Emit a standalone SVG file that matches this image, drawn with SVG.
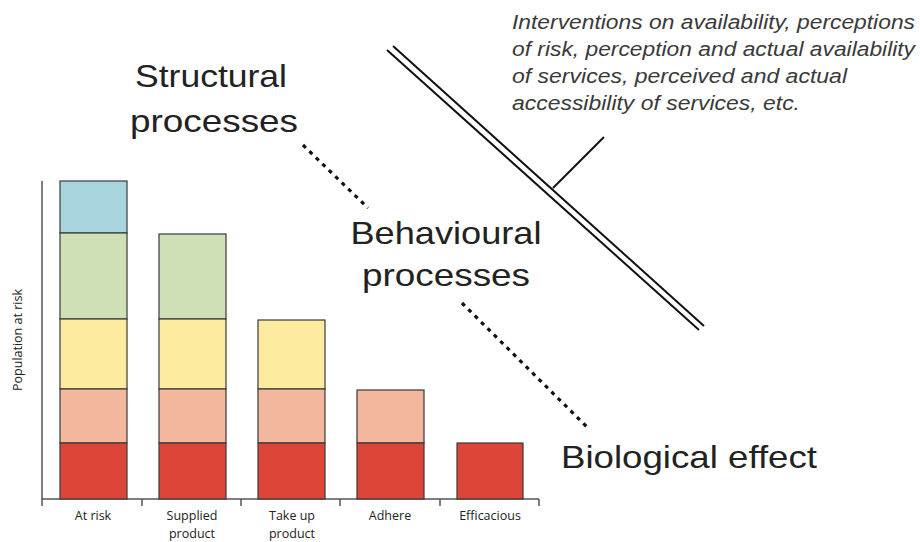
<svg xmlns="http://www.w3.org/2000/svg" width="920" height="542" viewBox="0 0 920 542">
<style>
.bar{stroke:#3a3a3a;stroke-width:1.2}
.b{fill:#a8d5dd}.g{fill:#cfe0b6}.y{fill:#fdeca0}.s{fill:#f3b79e}.r{fill:#dd4539}
.axis{stroke:#555;stroke-width:1.5;fill:none}
.lbl{font-family:"Open Sans","Liberation Sans",sans-serif;font-size:12.5px;fill:#222;text-anchor:middle}
.big{font-family:"Liberation Sans",Arial,sans-serif;font-size:32px;fill:#222;text-anchor:middle}
.it{font-family:"Liberation Sans",Arial,sans-serif;font-style:italic;font-size:19.5px;fill:#3a3a3a}
.dot{stroke:#111;stroke-width:3.2;stroke-dasharray:4 5;fill:none}
.dbl{stroke:#111;stroke-width:2;fill:none}
</style>
<rect width="920" height="542" fill="#fff"/>
<g id="chart">
  <path class="axis" d="M42 181V499H539M42 499v7M142 499v7M241 499v7M340 499v7M440 499v7M539 499v7"/>
  <text class="lbl" transform="translate(22 340) rotate(-90)" font-size="12">Population at risk</text>
  <g id="bar-at-risk">
    <rect class="bar b" x="60" y="181" width="67" height="52"/>
    <rect class="bar g" x="60" y="233" width="67" height="86"/>
    <rect class="bar y" x="60" y="319" width="67" height="70"/>
    <rect class="bar s" x="60" y="389" width="67" height="54"/>
    <rect class="bar r" x="60" y="443" width="67" height="56"/>
    <text class="lbl" x="93" y="520">At risk</text>
  </g>
  <g id="bar-supplied">
    <rect class="bar g" x="159" y="234" width="67" height="85"/>
    <rect class="bar y" x="159" y="319" width="67" height="70"/>
    <rect class="bar s" x="159" y="389" width="67" height="54"/>
    <rect class="bar r" x="159" y="443" width="67" height="56"/>
    <text class="lbl" x="192" y="520">Supplied</text>
    <text class="lbl" x="192" y="537.5">product</text>
  </g>
  <g id="bar-takeup">
    <rect class="bar y" x="258" y="320" width="67" height="69"/>
    <rect class="bar s" x="258" y="389" width="67" height="54"/>
    <rect class="bar r" x="258" y="443" width="67" height="56"/>
    <text class="lbl" x="292" y="520">Take up</text>
    <text class="lbl" x="292" y="537.5">product</text>
  </g>
  <g id="bar-adhere">
    <rect class="bar s" x="357" y="390" width="67" height="53"/>
    <rect class="bar r" x="357" y="443" width="67" height="56"/>
    <text class="lbl" x="390" y="520">Adhere</text>
  </g>
  <g id="bar-efficacious">
    <rect class="bar r" x="457" y="443" width="66" height="56"/>
    <text class="lbl" x="490" y="520">Efficacious</text>
  </g>
</g>
<g id="structural">
  <text class="big" x="211" y="87" textLength="152" lengthAdjust="spacingAndGlyphs">Structural</text>
  <text class="big" x="214" y="132" textLength="168" lengthAdjust="spacingAndGlyphs">processes</text>
</g>
<g id="behavioural">
  <text class="big" x="446" y="244" textLength="191" lengthAdjust="spacingAndGlyphs">Behavioural</text>
  <text class="big" x="446" y="286" textLength="168" lengthAdjust="spacingAndGlyphs">processes</text>
</g>
<g id="biological">
  <text class="big" x="689" y="468" textLength="256" lengthAdjust="spacingAndGlyphs">Biological effect</text>
</g>
<g id="interventions">
  <text class="it" x="512" y="29" textLength="403" lengthAdjust="spacingAndGlyphs">Interventions on availability, perceptions</text>
  <text class="it" x="512" y="56" textLength="403" lengthAdjust="spacingAndGlyphs">of risk, perception and actual availability</text>
  <text class="it" x="512" y="83" textLength="335" lengthAdjust="spacingAndGlyphs">of services, perceived and actual</text>
  <text class="it" x="512" y="110" textLength="288" lengthAdjust="spacingAndGlyphs">accessibility of services, etc.</text>
</g>
<g id="connectors">
  <line class="dot" x1="303" y1="145" x2="368" y2="208"/>
  <line class="dot" x1="462" y1="303" x2="588" y2="428"/>
  <line class="dbl" x1="387" y1="50" x2="699" y2="330"/>
  <line class="dbl" x1="393" y1="46" x2="704" y2="326"/>
  <line class="dbl" x1="553" y1="188" x2="604" y2="137"/>
</g>
</svg>
